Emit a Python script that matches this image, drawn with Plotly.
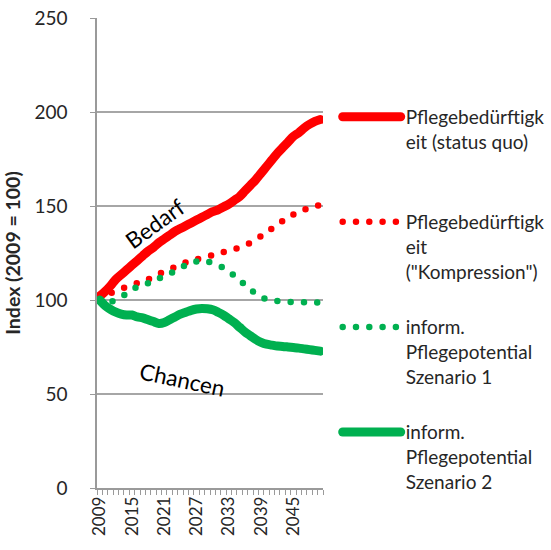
import plotly.graph_objects as go

years = list(range(2009, 2051))

bedarf_status_quo = [102, 104.5, 107.5, 111, 113.5, 116, 118.5, 121, 123.5, 126,
                     128, 130.5, 132.5, 134.5, 136.5, 138, 139.5, 141, 142.5, 144,
                     145.5, 147, 148, 149.5, 151, 153, 155, 158, 161, 164,
                     167.5, 171, 174.5, 178, 181, 184, 187, 189, 191.5, 193.5,
                     195, 196]
bedarf_kompression = [101, 102, 103.5, 105, 106, 107, 108, 109, 110, 111,
                      112.5, 114, 115, 116.5, 117.5, 118.5, 120, 120.5, 121.5, 122.5,
                      123, 124, 125, 125.5, 126, 127, 128, 129, 130.5, 132,
                      134, 136, 138, 140, 142, 144, 145.5, 147, 148, 149,
                      150, 150.5]
potential_s1 = [100, 99, 99, 100, 101.5, 103.5, 105.5, 107, 108, 109,
                110.5, 111.5, 112.5, 114, 115.5, 117, 118.5, 119.5, 120.5, 121,
                120.5, 119.5, 118.5, 117, 115, 113, 110.5, 108, 105.5, 103.5,
                101.5, 100.5, 100, 99.5, 99.2, 99, 99, 98.9, 98.8, 98.7,
                98.7, 98.6]
potential_s2 = [100, 97, 95, 93.5, 92.5, 92, 92, 91, 90.5, 89.5,
                88.5, 87.5, 88, 89.5, 91, 92.5, 93.5, 94.5, 95.2, 95.5,
                95.3, 94.8, 93.5, 92, 90, 88, 85.5, 83, 81, 79,
                77.5, 76.5, 76, 75.5, 75.3, 75, 74.7, 74.4, 74, 73.6,
                73.2, 72.8]

tick_years = [2009, 2015, 2021, 2027, 2033, 2039, 2045]

names = [
    "Pflegebedürftigk<br>eit (status quo)<br>&nbsp;",
    "Pflegebedürftigk<br>eit<br>(\"Kompression\")",
    "inform.<br>Pflegepotential<br>Szenario 1",
    "inform.<br>Pflegepotential<br>Szenario 2",
]

RED = "#FF0000"
GREEN = "#00B050"
FONT = "Lato"
TXT = "#262626"

fig = go.Figure()
series = [
    (bedarf_status_quo, names[0], RED, "solid", 9),
    (bedarf_kompression, names[1], RED, "0px,13.3px", 6.5),
    (potential_s1, names[2], GREEN, "0px,13.3px", 6.5),
    (potential_s2, names[3], GREEN, "solid", 9),
]
for i, (vals, nm, col, dash, w) in enumerate(series):
    fig.add_trace(go.Scatter(
        x=years, y=vals, mode="lines", name=nm, legendgroup=f"g{i}",
        line=dict(color=col, width=w, dash=dash, shape="spline", smoothing=0.8),
    ))

fig.update_layout(
    width=551, height=550,
    margin=dict(l=97, r=228, t=18, b=62, autoexpand=False),
    paper_bgcolor="white", plot_bgcolor="white",
    font=dict(family=FONT, color=TXT),
    showlegend=True,
    legend=dict(
        x=1.065, y=0.83, xanchor="left", yanchor="top",
        font=dict(family=FONT, size=19, color=TXT),
        valign="top", itemwidth=58, tracegroupgap=28,
        bgcolor="rgba(0,0,0,0)",
    ),
    xaxis=dict(
        range=[2008.5, 2050.5],
        tickmode="array", tickvals=tick_years,
        ticktext=[str(y) for y in tick_years],
        tickangle=-90, tickfont=dict(size=17, family=FONT, color=TXT),
        ticks="", showgrid=False, zeroline=False,
        showline=True, linecolor="#9A9A9A", linewidth=1.5,
        minor=dict(tick0=2008.5, dtick=1, ticks="outside", ticklen=5,
                   tickcolor="#9A9A9A", tickwidth=1, showgrid=False),
        automargin=False, fixedrange=True,
    ),
    yaxis=dict(
        range=[0, 250], dtick=50, tick0=0,
        tickfont=dict(size=19, family=FONT, color=TXT),
        showgrid=True, gridcolor="#A6A6A6", gridwidth=1.5,
        zeroline=False,
        showline=True, linecolor="#9A9A9A", linewidth=1.5,
        ticks="outside", ticklen=5, tickcolor="#9A9A9A",
        ticklabelstandoff=19,
        title=dict(text="<b>Index (2009 = 100)</b>",
                   font=dict(size=19.5, family=FONT, color=TXT), standoff=9),
        automargin=False, fixedrange=True,
    ),
    annotations=[
        dict(x=2019.3, y=140.5, xref="x", yref="y", text="Bedarf", showarrow=False,
             textangle=-36, font=dict(size=22.5, family=FONT, color="#000000")),
        dict(x=2024.3, y=57.5, xref="x", yref="y", text="Chancen", showarrow=False,
             textangle=12, font=dict(size=22.5, family=FONT, color="#000000")),
    ],
)

post = ("document.head.insertAdjacentHTML('beforeend',"
        "'<style>body{margin:0 !important;}"
        ".js-line{stroke-linecap:round !important;"
        "stroke-linejoin:round !important;}</style>');")
fig.write_html("out.html", post_script=post, config={"displayModeBar": False})
